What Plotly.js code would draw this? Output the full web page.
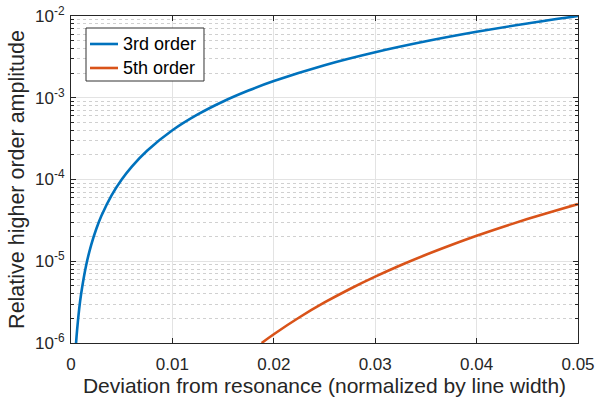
<!DOCTYPE html>
<html><head><meta charset="utf-8">
<script src="https://cdn.plot.ly/plotly-3.0.1.min.js"></script>
<style>html,body{margin:0;padding:0;background:#fff}#chart{width:597px;height:397px}</style>
</head><body><div id="chart"></div>
<script>
const x3 = [0.0005, 0.0006, 0.0008, 0.001, 0.0015, 0.002, 0.0025, 0.003, 0.004, 0.005, 0.006, 0.0075, 0.01, 0.0125, 0.015, 0.0175, 0.02, 0.025, 0.03, 0.035, 0.04, 0.045, 0.05];
const y3 = [1e-6, 1.44e-6, 2.56e-6, 4e-6, 9e-6, 1.6e-5, 2.5e-5, 3.6e-5, 6.4e-5, 1e-4, 1.44e-4, 2.25e-4, 4e-4, 6.25e-4, 9e-4, 1.225e-3, 1.6e-3, 2.5e-3, 3.6e-3, 4.9e-3, 6.4e-3, 8.1e-3, 1e-2];
const x5 = [0.0188, 0.02, 0.0225, 0.025, 0.0275, 0.03, 0.0325, 0.035, 0.0375, 0.04, 0.0425, 0.045, 0.0475, 0.05];
const y5 = [1e-6, 1.28e-6, 2.05e-6, 3.13e-6, 4.58e-6, 6.48e-6, 8.93e-6, 1.2e-5, 1.58e-5, 2.05e-5, 2.61e-5, 3.28e-5, 4.07e-5, 5e-5];
const xTicks = [0, 0.01, 0.02, 0.03, 0.04, 0.05];
const xTickText = ['0', '0.01', '0.02', '0.03', '0.04', '0.05'];
const yTicks = [1e-6, 1e-5, 1e-4, 1e-3, 1e-2];
const yTickText = ['10<sup>-6</sup>', '10<sup>-5</sup>', '10<sup>-4</sup>', '10<sup>-3</sup>', '10<sup>-2</sup>'];
const names = ['3rd order', '5th order'];
const colors = ['#0072BD', '#D95319'];

// minor log tick positions (2..9 within each decade)
const minorVals = [];
for (let e = -6; e < -2; e++) for (let m = 2; m <= 9; m++) minorVals.push(m * Math.pow(10, e));

const font = 'Liberation Sans, Arial, sans-serif';
const data = [
  {x: x3, y: y3, name: names[0], mode: 'lines', line: {color: colors[0], width: 2.6, shape: 'spline'}},
  {x: x5, y: y5, name: names[1], mode: 'lines', line: {color: colors[1], width: 2.6, shape: 'spline'}}
];

// legend box drawn in paper coordinates (MATLAB-style)
const legRow = [0.9144, 0.8410];
const shapes = [
  {type: 'rect', xref: 'paper', yref: 'paper', x0: 0.0296, x1: 0.2623, y0: 0.8012, y1: 0.9633,
   line: {color: '#333', width: 1}, fillcolor: '#fff', layer: 'above'}
];
const annotations = [];
names.forEach((n, i) => {
  shapes.push({type: 'line', xref: 'paper', yref: 'paper', x0: 0.0375, x1: 0.0927, y0: legRow[i], y1: legRow[i],
               line: {color: colors[i], width: 2.6}, layer: 'above'});
  annotations.push({xref: 'paper', yref: 'paper', x: 0.0986, y: legRow[i], xanchor: 'left', yanchor: 'middle',
                    text: n, showarrow: false, font: {family: font, size: 18, color: '#000'}});
});

const layout = {
  width: 597, height: 397,
  margin: {l: 71, r: 19, t: 16, b: 54},
  paper_bgcolor: '#fff', plot_bgcolor: '#fff',
  font: {family: font, size: 17, color: '#262626'},
  showlegend: false,
  shapes: shapes,
  annotations: annotations,
  xaxis: {
    range: [0, 0.05], tickvals: xTicks, ticktext: xTickText,
    showline: true, linecolor: '#262626', linewidth: 1, mirror: 'ticks',
    ticks: 'inside', ticklen: 5, tickcolor: '#262626', ticklabelstandoff: 6,
    showgrid: true, gridcolor: '#e3e3e3', gridwidth: 1, zeroline: false,
    title: {text: 'Deviation from resonance (normalized by line width)', font: {family: font, size: 21, color: '#262626'}, standoff: 3},
    tickfont: {family: font, size: 17, color: '#262626'}
  },
  yaxis: {
    type: 'log', range: [-6, -2], tickvals: yTicks, ticktext: yTickText,
    showline: true, linecolor: '#262626', linewidth: 1, mirror: 'ticks',
    ticks: 'inside', ticklen: 5, tickcolor: '#262626', ticklabelstandoff: 2,
    showgrid: true, gridcolor: '#e3e3e3', gridwidth: 1, zeroline: false,
    minor: {tickmode: 'array', tickvals: minorVals, ticks: 'inside', ticklen: 3, tickcolor: '#262626', showgrid: true, gridcolor: '#d0d0d0', griddash: 'dot', gridwidth: 1},
    title: {text: 'Relative higher order amplitude', font: {family: font, size: 21.5, color: '#262626'}, standoff: 4},
    tickfont: {family: font, size: 17, color: '#262626'}
  }
};
Plotly.newPlot('chart', data, layout, {displayModeBar: false, staticPlot: true});
</script></body></html>
